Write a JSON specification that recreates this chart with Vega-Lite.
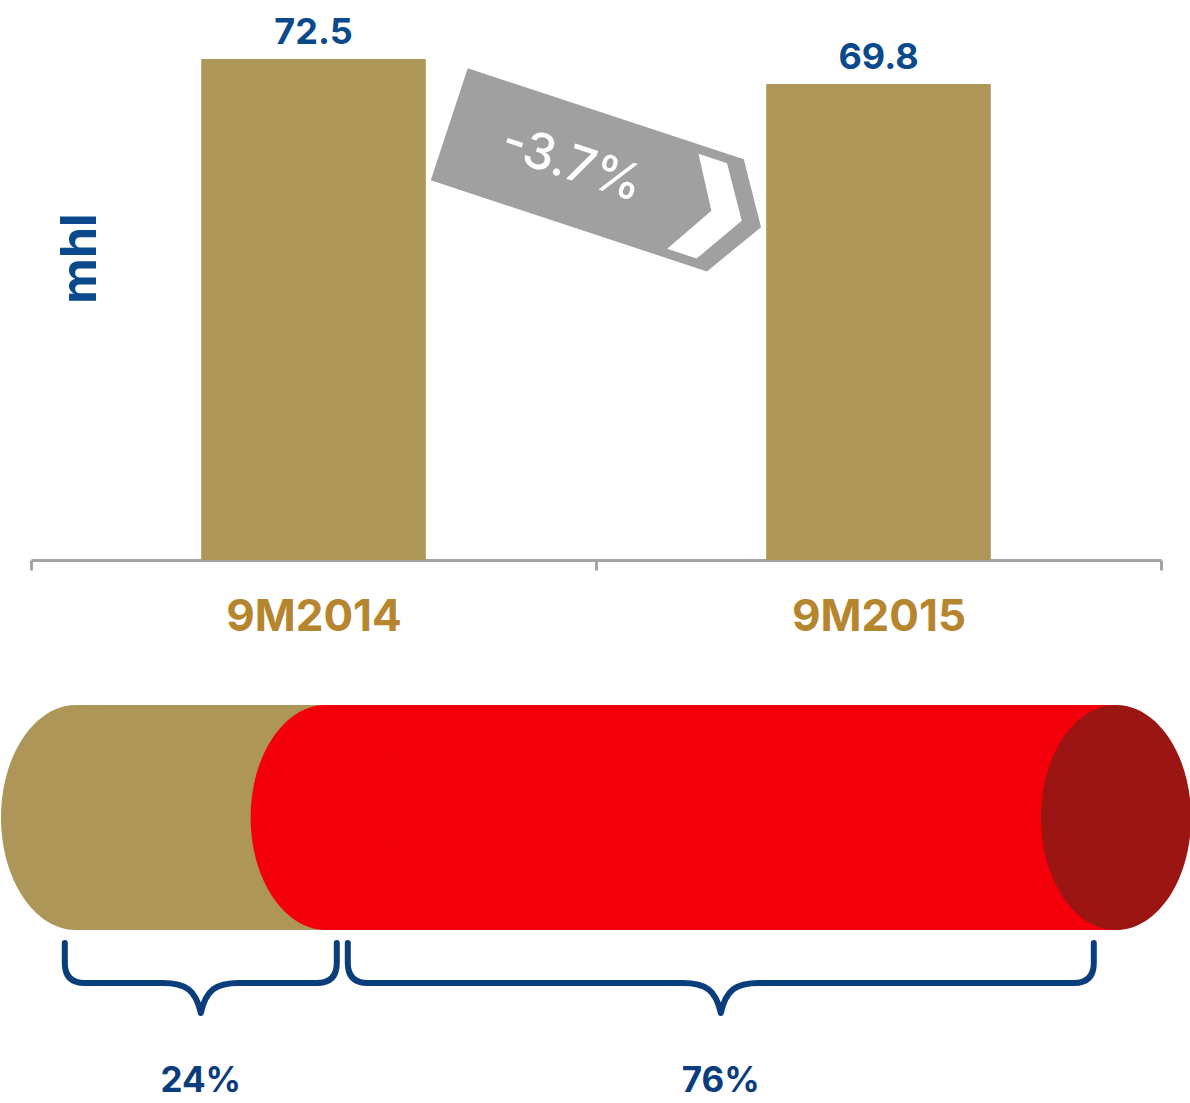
{
  "$schema": "https://vega.github.io/schema/vega-lite/v6.json",
  "padding": 0,
  "autosize": {"type": "pad"},
  "bounds": "flush",
  "spacing": 145,
  "config": {"view": {"stroke": null}, "font": "Inter"},
  "vconcat": [
    {
      "width": 1130,
      "height": 560,
      "layer": [
        {
          "data": {"values": [
            {"period": "9M2014", "volume": 72.5},
            {"period": "9M2015", "volume": 69.8}
          ]},
          "encoding": {
            "x": {
              "field": "period", "type": "nominal", "sort": null,
              "scale": {"paddingInner": 0, "paddingOuter": 0},
              "axis": {
                "title": null, "labelAngle": 0, "grid": false,
                "labelFont": "Inter", "labelFontWeight": "bold", "labelFontSize": 44,
                "labelColor": "#B6862F", "labelPadding": 25,
                "tickBand": "extent", "tickSize": 10, "tickWidth": 3, "tickColor": "#A3A3A3",
                "domainColor": "#A3A3A3", "domainWidth": 3
              }
            },
            "y": {
              "field": "volume", "type": "quantitative",
              "scale": {"domain": [18.4, 78.87], "zero": false, "nice": false, "clamp": true},
              "axis": {
                "title": "mhl", "labels": false, "ticks": false, "domain": false, "grid": false,
                "minExtent": 0,
                "titleFont": "Inter", "titleFontWeight": "bold", "titleFontSize": 50, "titleColor": "#0A4A8C",
                "titleAngle": 270, "titleAlign": "center", "titleBaseline": "alphabetic",
                "titleX": 64, "titleY": 258
              }
            }
          },
          "layer": [
            {"mark": {"type": "bar", "color": "#AE9658", "width": {"band": 0.3975}}},
            {
              "mark": {"type": "text", "font": "Inter", "fontWeight": "bold", "fontSize": 36,
                       "color": "#0A4A8C", "baseline": "alphabetic", "align": "center", "dy": -15},
              "encoding": {"text": {"field": "volume", "type": "quantitative", "format": ".1f"}}
            }
          ]
        },
        {
          "data": {"values": [{"from": "9M2014", "to": "9M2015", "change": "-3.7%"}]},
          "encoding": {
            "x": {"datum": 1, "type": "quantitative", "scale": {"domain": [0, 2], "nice": false, "zero": false}, "axis": null},
            "y": {
              "datum": 59.9, "type": "quantitative",
              "axis": {
                "title": "mhl", "labels": false, "ticks": false, "domain": false, "grid": false,
                "minExtent": 0,
                "titleFont": "Inter", "titleFontWeight": "bold", "titleFontSize": 50, "titleColor": "#0A4A8C",
                "titleAngle": 270, "titleAlign": "center", "titleBaseline": "alphabetic",
                "titleX": 64, "titleY": 258
              }
            }
          },
          "layer": [
            {
              "mark": {"type": "point", "shape": "M-1.64,-0.59L1.267,-0.59L1.643,0L1.268,0.59L-1.64,0.59Z",
                       "size": 40000, "angle": 18.25, "filled": true, "color": "#A0A0A0",
                       "opacity": 1, "strokeWidth": 0, "xOffset": 9}
            },
            {
              "mark": {"type": "point", "shape": "M0.82,-0.5L1.12,-0.5L1.44,0L1.13,0.5L0.82,0.5L1.12,0Z",
                       "size": 40000, "angle": 18.25, "filled": true, "color": "#FFFFFF",
                       "opacity": 1, "strokeWidth": 0, "xOffset": 9}
            },
            {
              "mark": {"type": "text", "angle": 18.25, "dx": -35, "dy": 0, "align": "center", "baseline": "middle",
                       "font": "Inter", "fontSize": 50, "fontWeight": 500, "color": "#FFFFFF", "xOffset": 9},
              "encoding": {"text": {"field": "change", "type": "nominal"}}
            }
          ]
        }
      ],
      "resolve": {"scale": {"x": "independent"}, "axis": {"x": "independent"}}
    },
    {
      "width": 1130,
      "height": 225,
      "data": {"values": [
        {"segment": "Segment 1", "share": 0.24},
        {"segment": "Segment 2", "share": 0.76}
      ]},
      "transform": [
        {"stack": "share", "groupby": [], "sort": [{"field": "share", "order": "ascending"}], "as": ["s0", "s1"]}
      ],
      "layer": [
        {
          "mark": {"type": "rect"},
          "encoding": {
            "x": {"field": "s0", "type": "quantitative", "scale": {"domain": [-0.04327, 1.04327], "nice": false, "zero": false}, "axis": null},
            "x2": {"field": "s1"},
            "y": {"datum": 0, "type": "quantitative", "scale": {"domain": [0, 1], "nice": false, "zero": false}, "axis": null},
            "y2": {"datum": 1},
            "color": {"field": "segment", "type": "nominal",
                      "scale": {"domain": ["Segment 1", "Segment 2"], "range": ["#AE9658", "#F3000A"]}, "legend": null}
          }
        },
        {
          "transform": [{"filter": "datum.segment === 'Segment 2'"}],
          "mark": {"type": "point", "shape": "M0.6667,0C0.6667,0.5523,0.3682,1,0,1C-0.3682,1,-0.6667,0.5523,-0.6667,0C-0.6667,-0.5523,-0.3682,-1,0,-1C0.3682,-1,0.6667,-0.5523,0.6667,0Z",
                   "size": 50625, "filled": true, "color": "#9B1512", "opacity": 1, "strokeWidth": 0},
          "encoding": {
            "x": {"field": "s1", "type": "quantitative"},
            "y": {"datum": 0.5, "type": "quantitative"}
          }
        },
        {
          "mark": {"type": "point", "shape": "M0.6667,0C0.6667,0.5523,0.3682,1,0,1C-0.3682,1,-0.6667,0.5523,-0.6667,0C-0.6667,-0.5523,-0.3682,-1,0,-1C0.3682,-1,0.6667,-0.5523,0.6667,0Z",
                   "size": 50625, "filled": true, "opacity": 1, "strokeWidth": 0},
          "encoding": {
            "x": {"field": "s0", "type": "quantitative"},
            "y": {"datum": 0.5, "type": "quantitative"},
            "color": {"field": "segment", "type": "nominal", "legend": null}
          }
        },
        {
          "mark": {"type": "point", "filled": false, "size": 40000, "stroke": "#0A3D7C", "strokeWidth": 6,
                   "opacity": 1, "strokeCap": "round", "strokeJoin": "round"},
          "encoding": {
            "x": {"field": "share", "type": "quantitative", "stack": "zero", "bandPosition": 0.5},
            "detail": {"field": "segment", "type": "nominal"},
            "order": {"field": "share", "sort": "ascending"},
            "y": {"datum": -0.2356, "type": "quantitative"},
            "shape": {"field": "segment", "type": "nominal", "legend": null,
                      "scale": {"domain": ["Segment 1", "Segment 2"],
                                "range": ["M-1.36,-0.4L-1.36,-0.2Q-1.36,0,-1.16,0L-0.38,0C-0.15,0,-0.05,0.07,0,0.3C0.05,0.07,0.15,0,0.38,0L1.16,0Q1.36,0,1.36,-0.2L1.36,-0.4",
                                          "M-3.73,-0.4L-3.73,-0.2Q-3.73,0,-3.53,0L-0.38,0C-0.15,0,-0.05,0.07,0,0.3C0.05,0.07,0.15,0,0.38,0L3.53,0Q3.73,0,3.73,-0.2L3.73,-0.4"]}}
          }
        },
        {
          "mark": {"type": "text", "font": "Inter", "fontWeight": "bold", "fontSize": 35, "color": "#0A3D7C",
                   "align": "center", "baseline": "alphabetic"},
          "encoding": {
            "x": {"field": "share", "type": "quantitative", "stack": "zero", "bandPosition": 0.5},
            "detail": {"field": "segment", "type": "nominal"},
            "order": {"field": "share", "sort": "ascending"},
            "y": {"datum": -0.72, "type": "quantitative"},
            "text": {"field": "share", "type": "quantitative", "format": ".0%"}
          }
        }
      ]
    }
  ]
}
